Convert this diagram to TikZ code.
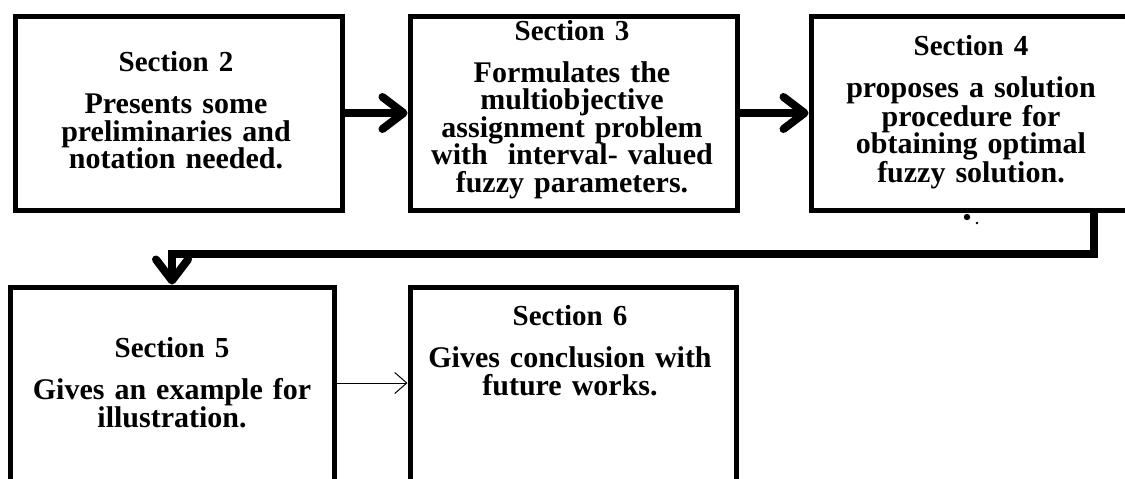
\documentclass[tikz,border=0pt]{standalone}
\usepackage{fontspec}
\setmainfont{Liberation Serif}
\usetikzlibrary{arrows.meta}
\lineskiplimit=-30pt\relax
\newcommand{\sechead}[1]{{\fontsize{29}{27.5}\selectfont #1}}
\begin{document}
\begin{tikzpicture}[x=1pt,y=-1pt,
  secbox/.style={draw=black,line width=5pt,rectangle,inner sep=0pt},
  sectext/.style={anchor=base,inner sep=0pt,text width=340pt,align=center,
     font=\bfseries\fontsize{30}{27.5}\selectfont},
  bigarrow/.style={line width=8pt,-{Straight Barb[length=21pt,width=32pt,round]}},
  thinarrow/.style={line width=1pt,-{Straight Barb[length=12pt,width=21pt]}},
  dotmark/.style={fill=black}]
\clip (0,0) rectangle (1125,479);
\fill[white] (0,0) rectangle (1125,479);
% boxes
\node[secbox,minimum width=327pt,minimum height=194pt] (box1) at (178.5,113) {};
\node[secbox,minimum width=327pt,minimum height=194pt] (box2) at (573.5,113) {};
\node[secbox,minimum width=320pt,minimum height=194pt] (box3) at (971,113) {};
\node[secbox,minimum width=324pt,minimum height=213pt] (box5) at (172,393.5) {};
\node[secbox,minimum width=326pt,minimum height=213pt] (box6) at (573,393.5) {};
% texts
\node[sectext] (t1) at (176,71) {\sechead{Section 2}\\[15pt]Presents some\\preliminaries and\\notation needed.};
\node[sectext] (t2) at (572,40) {\sechead{Section 3}\\[15pt]Formulates the\\multiobjective\\assignment problem\\with~ interval- valued\\fuzzy parameters.};
\node[sectext] (t3) at (971,55) {\sechead{Section 4}\\[15pt]proposes a solution\\procedure for\\obtaining optimal\\fuzzy solution.};
\node[sectext] (t5) at (172,357) {\sechead{Section 5}\\[15pt]Gives an example for\\illustration.};
\node[sectext] (t6) at (570,325) {\sechead{Section 6}\\[15pt]Gives conclusion with\\future works.};
% connectors
\draw[bigarrow] (box1.east) -- (box2.west);
\draw[bigarrow] (box2.east) -- (box3.west);
\coordinate (turn) at (1094,254);
\draw[bigarrow] (box3.south -| turn) -- (turn) -| (box5.north);
\coordinate (lvl) at (0,383);
\draw[thinarrow] (box5.east |- lvl) -- (box6.west |- lvl);
% stray marks
\fill[dotmark] (967,217) circle (3.2);
\fill[dotmark] (977,223) circle (1.3);
\end{tikzpicture}
\end{document}
